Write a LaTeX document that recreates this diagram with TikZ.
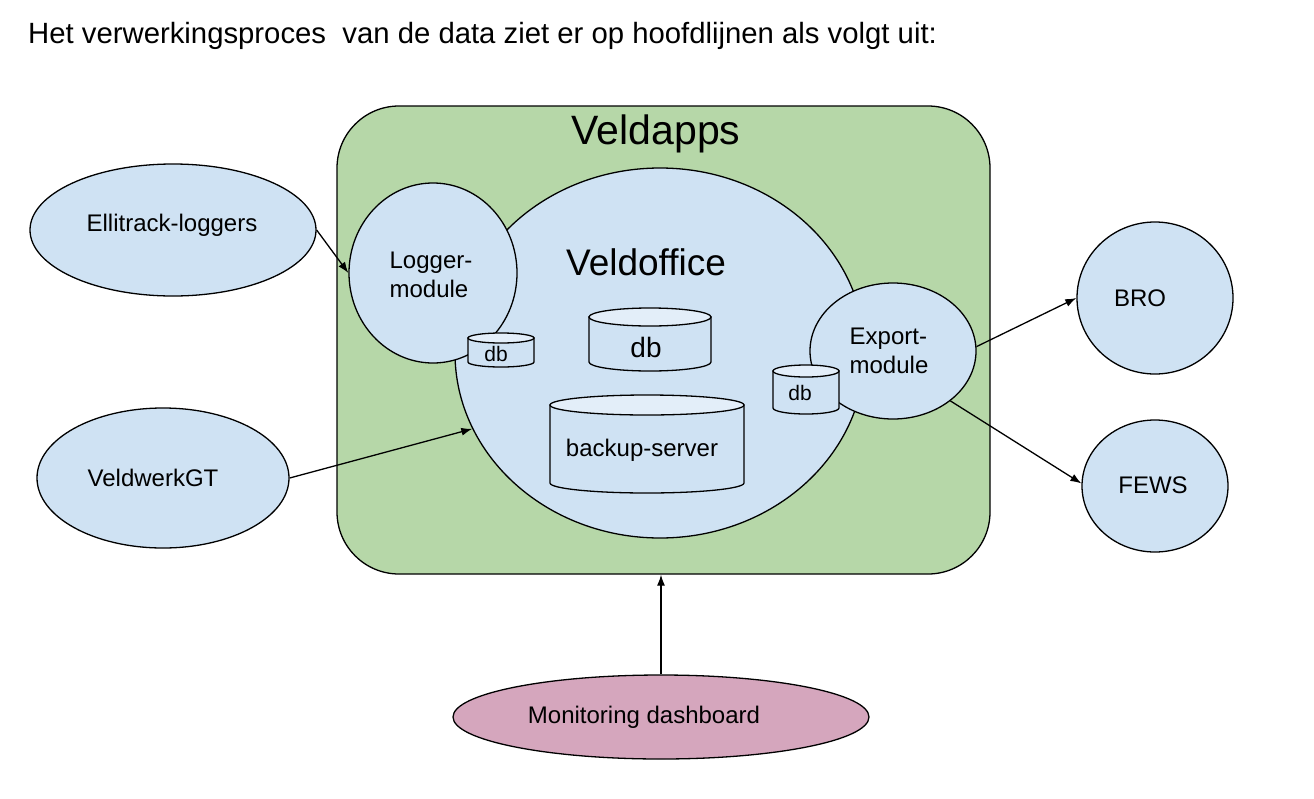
\documentclass[tikz,border=0pt]{standalone}
\usepackage{fontspec}
\setmainfont{Liberation Sans}
\usetikzlibrary{arrows.meta,shapes.geometric}
\definecolor{lblue}{HTML}{CFE2F3}
\definecolor{ltop}{HTML}{E3EEF9}
\definecolor{lgreen}{HTML}{B6D7A8}
\definecolor{lpink}{HTML}{D5A6BD}
\tikzset{
  outl/.style={draw=black, line width=1.3pt},
  oval/.style={ellipse, outl, fill=lblue, inner sep=0pt},
  lbl/.style={inner sep=0pt, font=\fontsize{24}{29}\selectfont, text=black},
  conn/.style={draw=black, line width=1.3pt, -{Latex[length=11pt,width=8pt]}},
}
\newcommand\dbcyl[5]{% cx, top, w, h, e
  \path[outl, fill=lblue] ({#1-#3/2},{#2+#5}) -- ({#1-#3/2},{#2+#4-#5})
    arc[start angle=180, end angle=0, x radius={#3/2}, y radius={#5}]
    -- ({#1+#3/2},{#2+#5}) -- cycle;
  \path[outl, fill=ltop] (#1,{#2+#5}) ellipse[x radius={#3/2}, y radius={#5}];
}
\begin{document}
\begin{tikzpicture}[x=1pt,y=-1pt]
\useasboundingbox (0,0) rectangle (1314,798);
% title
\node[lbl, anchor=base west, font=\fontsize{29.3}{34}\selectfont] (title) at (28,43) {Het verwerkingsproces \ van de data ziet er op hoofdlijnen als volgt uit:};
% Veldapps container
\node[outl, fill=lgreen, rounded corners=62pt, minimum width=653pt, minimum height=468pt, inner sep=0pt] (va) at (663.5,340) {};
\node[lbl, font=\fontsize{41}{46}\selectfont] (valbl) at (656,134) {Veldapps};
% Veldoffice
\node[oval, minimum width=410pt, minimum height=370pt] (vo) at (660,353) {};
\node[lbl, font=\fontsize{37}{42}\selectfont] (volbl) at (646,262) {Veldoffice};
% Logger module
\node[oval, minimum width=168pt, minimum height=180pt] (log) at (433,273) {};
\node[lbl, align=left] (loglbl) at (431,275) {Logger-\\module};
\dbcyl{501}{333}{66}{34}{5}
\node[lbl, font=\fontsize{21}{25}\selectfont] (db1) at (496,354) {db};
% central db
\dbcyl{650}{308}{122}{63}{9}
\node[lbl, font=\fontsize{28}{32}\selectfont] (db2) at (646,347) {db};
% backup server
\dbcyl{647}{395}{194}{98}{10}
\node[lbl] (bs) at (642,450) {backup-server};
% Export module
\node[oval, minimum width=166pt, minimum height=136pt] (exp) at (893,351) {};
\node[lbl, align=left] (explbl) at (889,351) {Export-\\module};
\dbcyl{806}{365}{66}{49}{6}
\node[lbl, font=\fontsize{21}{25}\selectfont] (db3) at (800,393) {db};
% external
\node[oval, minimum width=286pt, minimum height=132pt] (ell) at (173,230) {};
\node[lbl] (elllbl) at (172,225) {Ellitrack-loggers};
\node[oval, minimum width=252pt, minimum height=140pt] (vgt) at (163,478) {};
\node[lbl] (vgtlbl) at (153,478) {VeldwerkGT};
\node[oval, minimum width=156pt, minimum height=152pt] (bro) at (1155,298) {};
\node[lbl] (brolbl) at (1140,298) {BRO};
\node[oval, minimum width=146pt, minimum height=132pt] (fews) at (1155,486) {};
\node[lbl] (fewslbl) at (1153,485) {FEWS};
\node[ellipse, outl, fill=lpink, inner sep=0pt, minimum width=416pt, minimum height=84pt] (md) at (661,717) {};
\node[lbl] (mdlbl) at (644,717) {Monitoring dashboard};
% connectors
\draw[conn] (ell.east) -- (log.west);
\draw[conn] (vgt.east) -- (vo.202);
\draw[conn] (exp.3) -- (bro.west);
\draw[conn] (exp.319) -- (fews.178);
\draw[conn] (md.north) -- (md.north |- va.south);
\end{tikzpicture}
\end{document}
